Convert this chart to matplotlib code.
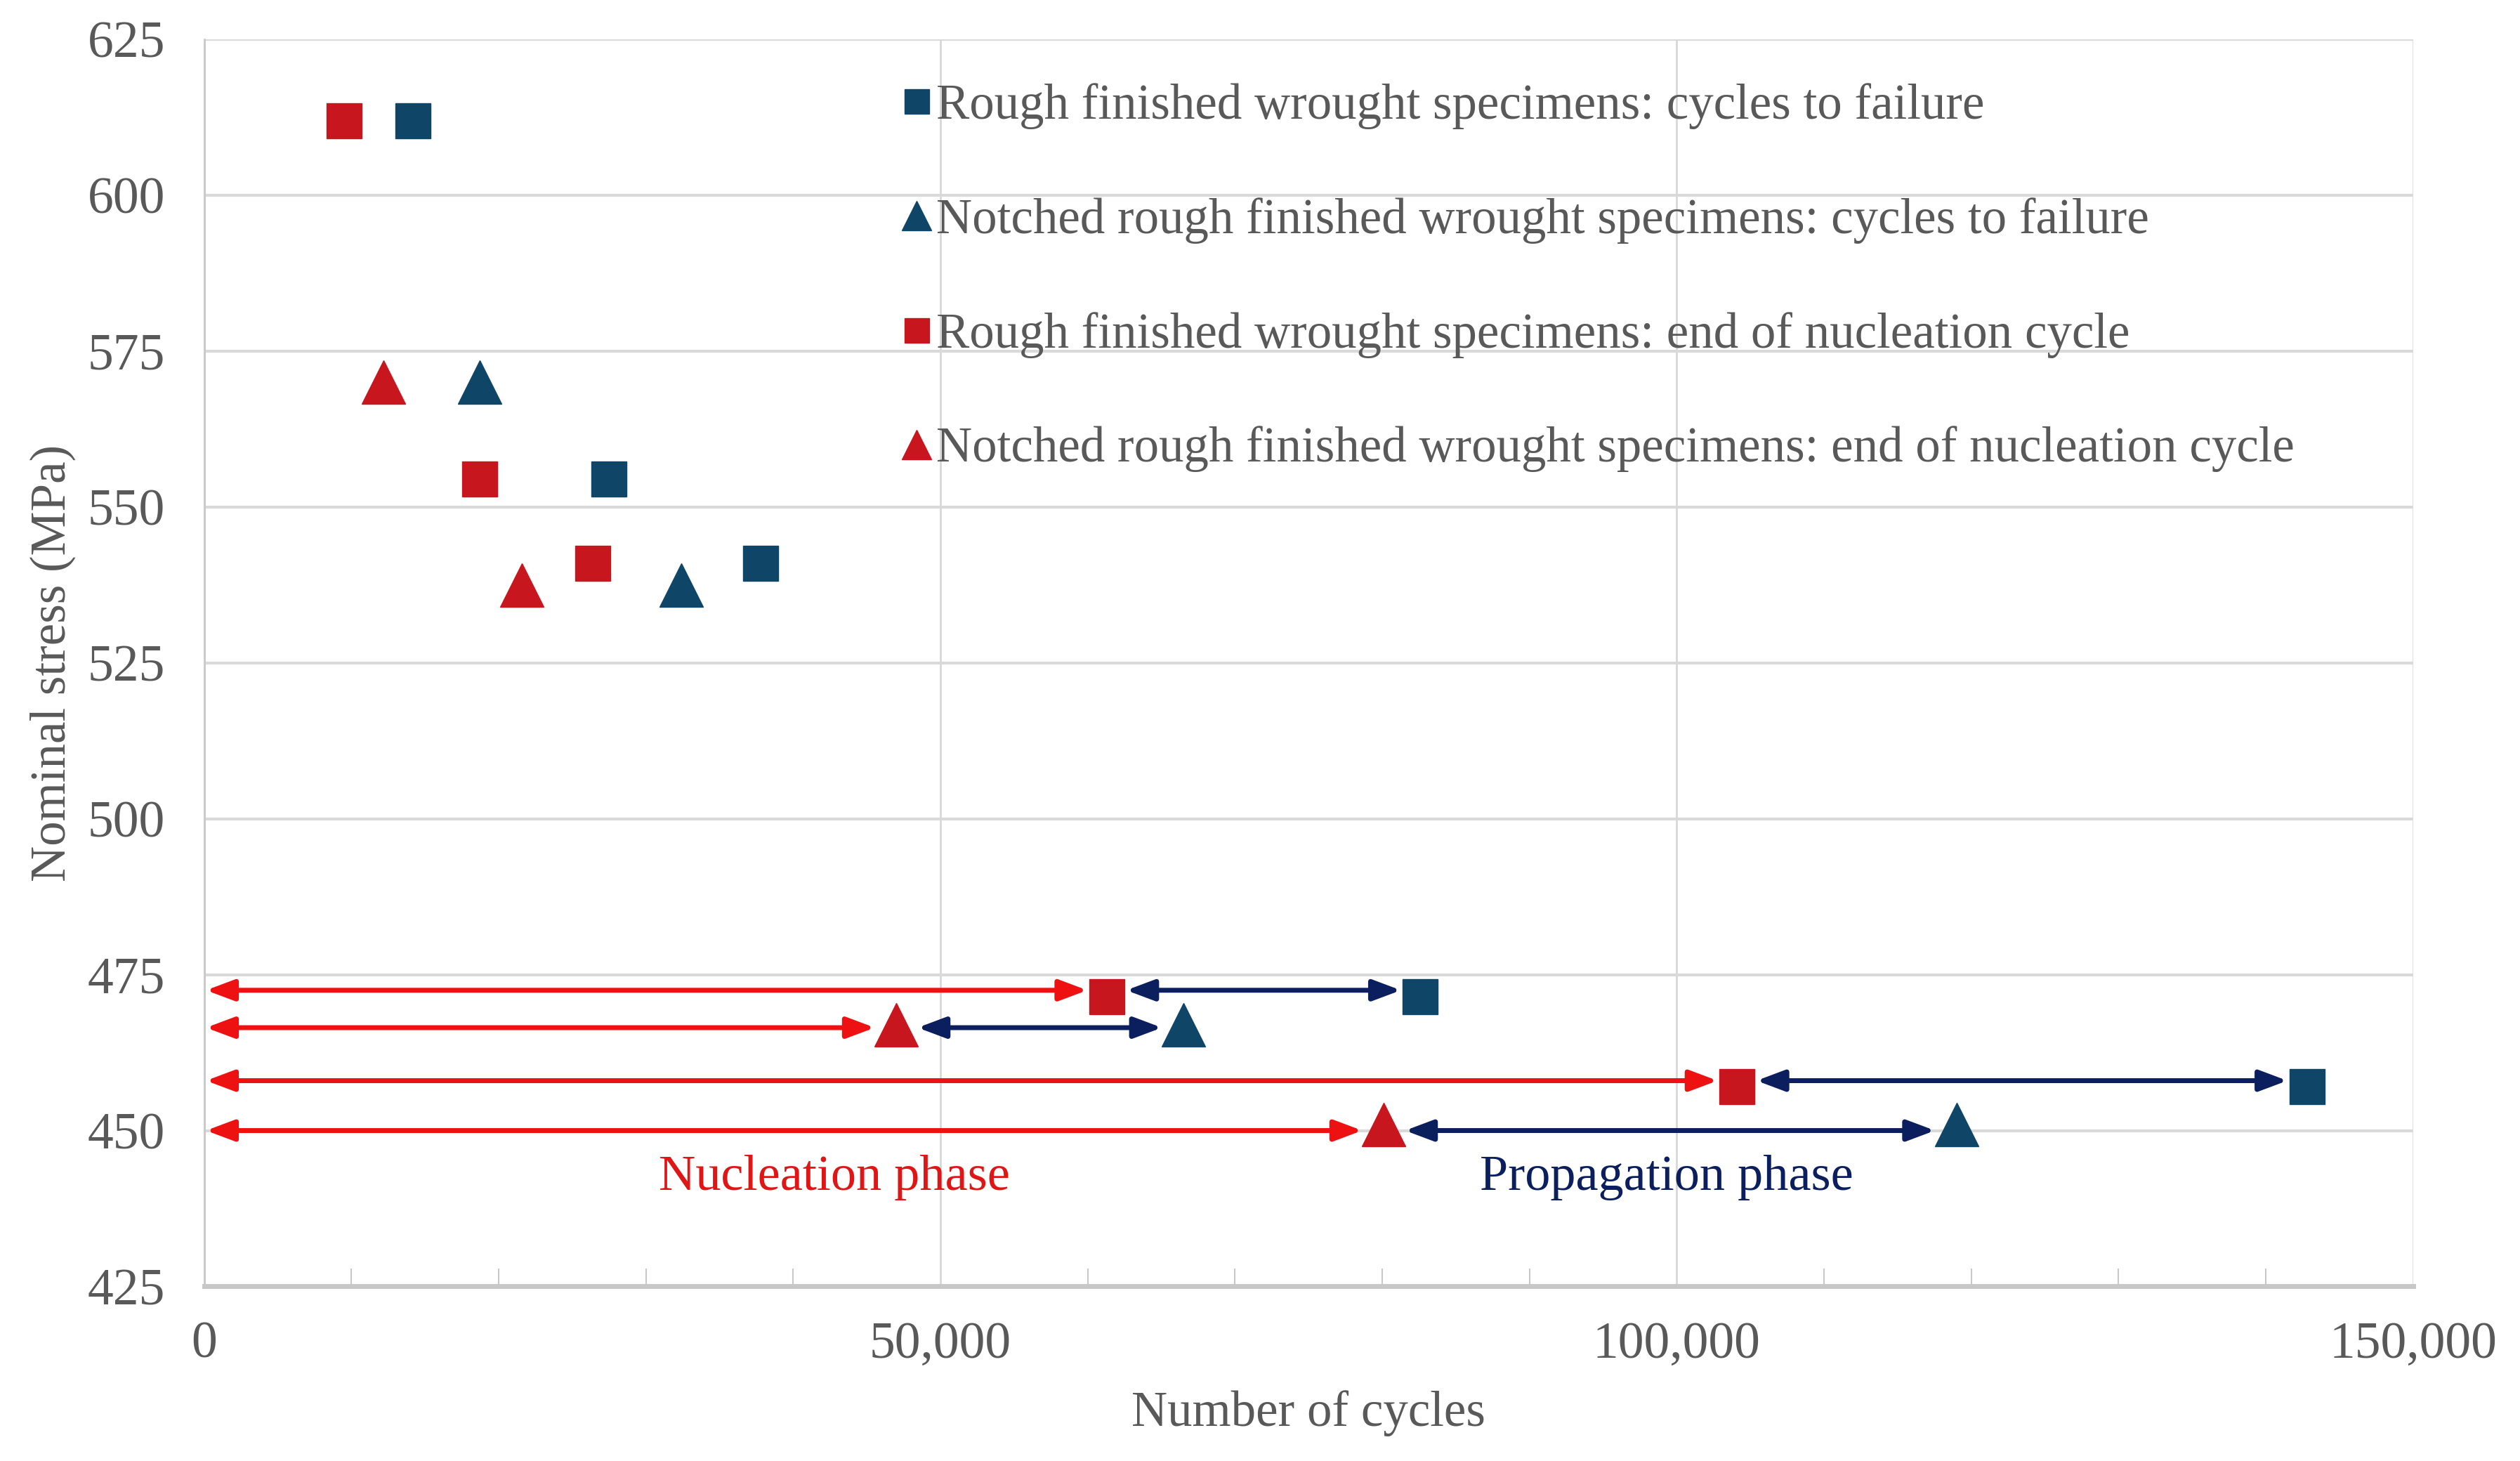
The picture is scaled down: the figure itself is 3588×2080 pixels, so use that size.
import matplotlib
matplotlib.use("Agg")
import matplotlib.pyplot as plt
from matplotlib.ticker import MultipleLocator, FuncFormatter

# stress levels (MPa) and cycle counts
rough_fail_x = [14200, 27500, 37800, 82600, 142800]
rough_fail_y = [612, 554.5, 541, 471.5, 457]
notch_fail_x = [18700, 32400, 66500, 119000]
notch_fail_y = [570, 537.5, 467, 451]
rough_nuc_x = [9500, 18700, 26400, 61300, 104100]
rough_nuc_y = [612, 554.5, 541, 471.5, 457]
notch_nuc_x = [12200, 21600, 47000, 80100]
notch_nuc_y = [570, 537.5, 467, 451]

# phase arrows for the four lowest-stress tests
arrow_y = [472.5, 466.5, 458, 450]
arrow_nuc_end = [61300, 47000, 104100, 80100]
arrow_fail_end = [82600, 66500, 142800, 119000]
arrow_marker = ["s", "^", "s", "^"]

labels = ["Rough finished wrought specimens: cycles to failure",
          "Notched rough finished wrought specimens: cycles to failure",
          "Rough finished wrought specimens: end of nucleation cycle",
          "Notched rough finished wrought specimens: end of nucleation cycle"]

BLUE = "#0f4566"
RED = "#c8161e"
ARROW_RED = "#ee1111"
ARROW_BLUE = "#0b1f5e"
GREY = "#595959"

plt.rcParams["font.family"] = ["Liberation Serif", "DejaVu Serif"]

fig, ax = plt.subplots(figsize=(35.88, 20.8), dpi=100)
fig.subplots_adjust(left=0.081, right=0.9575, top=0.973, bottom=0.1195)

ax.set_xlim(0, 150000)
ax.set_ylim(425, 625)
ax.yaxis.set_major_locator(MultipleLocator(25))
ax.xaxis.set_major_locator(MultipleLocator(50000))
ax.xaxis.set_minor_locator(MultipleLocator(10000))
ax.xaxis.set_major_formatter(FuncFormatter(lambda v, _: f"{v:,.0f}"))

ax.grid(axis="y", color="#d9d9d9", linewidth=3)
ax.grid(axis="x", which="major", color="#d4d4d4", linewidth=1.8)
for side in ["top", "right"]:
    ax.spines[side].set_visible(False)
ax.spines["left"].set_color("#c8c8c8")
ax.spines["left"].set_linewidth(2)
ax.spines["bottom"].set_color("#c8c8c8")
ax.spines["bottom"].set_linewidth(5)
ax.tick_params(axis="y", length=0, pad=40, labelsize=53, labelcolor=GREY)
ax.tick_params(axis="x", which="major", length=0, pad=36, labelsize=53, labelcolor=GREY)
ax.tick_params(axis="x", which="minor", direction="in", length=18, width=1.5, color="#c8c8c8")

ax.set_xlabel("Number of cycles", fontsize=51, color=GREY, labelpad=22)
ax.set_ylabel("Nominal stress (MPa)", fontsize=51, color=GREY, labelpad=12)

# arrows first so markers sit on top of the heads
for y, xn, xf, m in zip(arrow_y, arrow_nuc_end, arrow_fail_end, arrow_marker):
    half = 20 if m == "s" else 22
    ax.annotate("", xy=(xn, y), xytext=(0, y),
                arrowprops=dict(arrowstyle="<|-|>,head_length=0.8,head_width=0.3",
                                color=ARROW_RED, lw=5, shrinkA=2, shrinkB=half,
                                mutation_scale=30))
    ax.annotate("", xy=(xf, y), xytext=(xn, y),
                arrowprops=dict(arrowstyle="<|-|>,head_length=0.8,head_width=0.3",
                                color=ARROW_BLUE, lw=5, shrinkA=half, shrinkB=half,
                                mutation_scale=30))

ax.plot(rough_fail_x, rough_fail_y, "s", color=BLUE, ms=36, ls="none", label=labels[0], zorder=5)
ax.plot(notch_fail_x, notch_fail_y, "^", color=BLUE, ms=44, ls="none", label=labels[1], zorder=5)
ax.plot(rough_nuc_x, rough_nuc_y, "s", color=RED, ms=36, ls="none", label=labels[2], zorder=5)
ax.plot(notch_nuc_x, notch_nuc_y, "^", color=RED, ms=44, ls="none", label=labels[3], zorder=5)

ax.text(42800, 442.5, "Nucleation phase", color="#e01515", fontsize=52, ha="center", va="center")
ax.text(99300, 442.5, "Propagation phase", color=ARROW_BLUE, fontsize=52, ha="center", va="center")

leg = ax.legend(loc="upper left", bbox_to_anchor=(0.3045, 0.985), frameon=False,
                fontsize=51, markerscale=0.7, handlelength=0.6, handletextpad=0.1,
                labelspacing=1.37, borderpad=0)
for t in leg.get_texts():
    t.set_color(GREY)

fig.savefig("out.png", dpi=100)
